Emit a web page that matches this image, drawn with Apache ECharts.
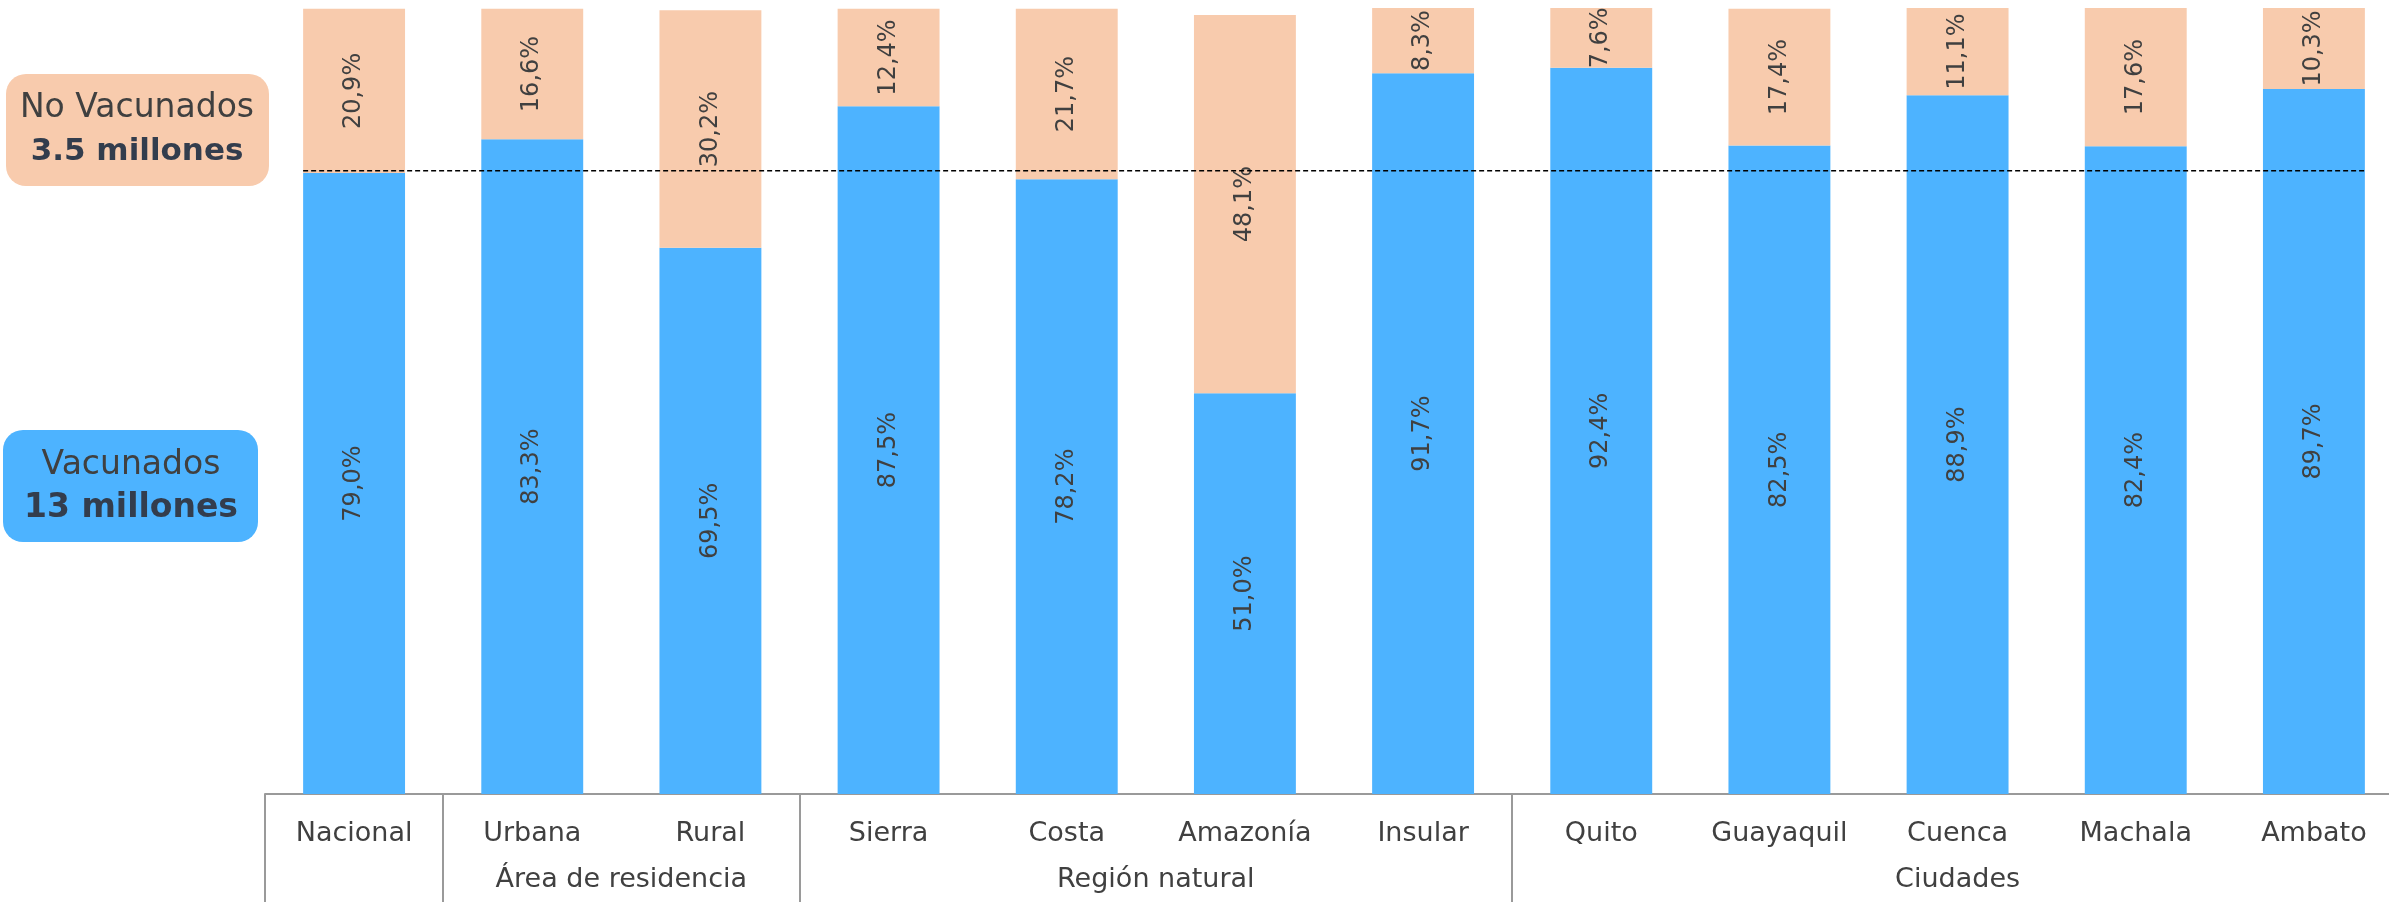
<!DOCTYPE html>
<html>
<head>
<meta charset="utf-8">
<script src="https://cdn.jsdelivr.net/npm/echarts@6/dist/echarts.min.js"></script>
<style>
html,body{margin:0;padding:0;background:#fff;overflow:hidden;}
#chart{width:2389px;height:902px;}
</style>
</head>
<body>
<div id="chart"></div>
<script>
const categories = ['Nacional','Urbana','Rural','Sierra','Costa','Amazonía','Insular','Quito','Guayaquil','Cuenca','Machala','Ambato'];
const vacunados = [79.0, 83.3, 69.5, 87.5, 78.2, 51.0, 91.7, 92.4, 82.5, 88.9, 82.4, 89.7];
const noVacunados = [20.9, 16.6, 30.2, 12.4, 21.7, 48.1, 8.3, 7.6, 17.4, 11.1, 17.6, 10.3];
const groupNames = ['Área de residencia', 'Región natural', 'Ciudades'];
const groupStarts = [1, 3, 7];
const groupEnds = [3, 7, 12];
const separatorIdx = [0, 1, 3, 7];
const referenceLevel = 79.3;

const FONT = 'DejaVu Sans';
const TXT = '#404040';
const BLUE = '#4DB3FF';
const ORANGE = '#F8CBAD';
const barFrac = 0.572;

const groupLabelMap = {};
groupNames.forEach((g, i) => { groupLabelMap[(groupStarts[i] + groupEnds[i]) / 2] = g; });

const fmt = p => p.value.toFixed(1).replace('.', ',') + '%';

const chart = echarts.init(document.getElementById('chart'));
chart.setOption({
  animation: false,
  textStyle: { fontFamily: FONT },
  grid: { left: 265, width: 2138, top: 8, height: 786, outerBoundsMode: 'none', containLabel: false },
  xAxis: [
    {
      type: 'category',
      data: categories,
      axisLine: { show: true, lineStyle: { color: '#9a9a9a', width: 2 } },
      axisTick: {
        show: true,
        length: 110,
        interval: (i) => separatorIdx.includes(i),
        lineStyle: { color: '#9a9a9a', width: 2 }
      },
      axisLabel: { margin: 26, fontSize: 27, color: TXT, fontFamily: FONT, interval: 0 }
    },
    {
      type: 'value',
      min: 0, max: categories.length, interval: 0.5,
      position: 'bottom',
      axisLine: { show: false },
      axisTick: { show: false },
      splitLine: { show: false },
      axisLabel: {
        margin: 72, fontSize: 27, color: TXT, fontFamily: FONT,
        showMinLabel: true, showMaxLabel: true,
        formatter: v => groupLabelMap[v] || ''
      }
    }
  ],
  yAxis: { type: 'value', min: 0, max: 100, show: false, splitLine: { show: false } },
  series: [
    {
      name: 'Vacunados', type: 'bar', stack: 'total', xAxisIndex: 0,
      barWidth: (barFrac * 100) + '%',
      data: vacunados,
      itemStyle: { color: BLUE },
      label: { show: true, position: 'inside', rotate: 90, formatter: fmt, fontSize: 24, color: TXT, fontFamily: FONT }
    },
    {
      name: 'No Vacunados', type: 'bar', stack: 'total', xAxisIndex: 0,
      barWidth: (barFrac * 100) + '%',
      data: noVacunados,
      itemStyle: { color: ORANGE },
      label: { show: true, position: 'inside', rotate: 90, formatter: fmt, fontSize: 24, color: TXT, fontFamily: FONT }
    },
    {
      type: 'line', xAxisIndex: 1, symbol: 'none', silent: true, z: 5,
      data: [[0.5 - barFrac / 2, referenceLevel], [categories.length - 0.5 + barFrac / 2, referenceLevel]],
      lineStyle: { color: '#000', width: 1.6, type: [5, 3] }
    }
  ],
  graphic: [
    { type: 'rect', left: 6, top: 74, shape: { width: 263, height: 112, r: 20 }, style: { fill: ORANGE } },
    { type: 'text', x: 137, y: 108, style: { text: 'No Vacunados', font: '33px "DejaVu Sans"', fill: TXT, textAlign: 'center', textVerticalAlign: 'middle' } },
    { type: 'text', x: 137, y: 152, style: { text: '3.5 millones', font: 'bold 31px "DejaVu Sans"', fill: '#333D4D', textAlign: 'center', textVerticalAlign: 'middle' } },
    { type: 'rect', left: 3, top: 430, shape: { width: 255, height: 112, r: 20 }, style: { fill: BLUE } },
    { type: 'text', x: 131, y: 465, style: { text: 'Vacunados', font: '33px "DejaVu Sans"', fill: TXT, textAlign: 'center', textVerticalAlign: 'middle' } },
    { type: 'text', x: 131, y: 508, style: { text: '13 millones', font: 'bold 33px "DejaVu Sans"', fill: '#333D4D', textAlign: 'center', textVerticalAlign: 'middle' } }
  ]
});
</script>
</body>
</html>
